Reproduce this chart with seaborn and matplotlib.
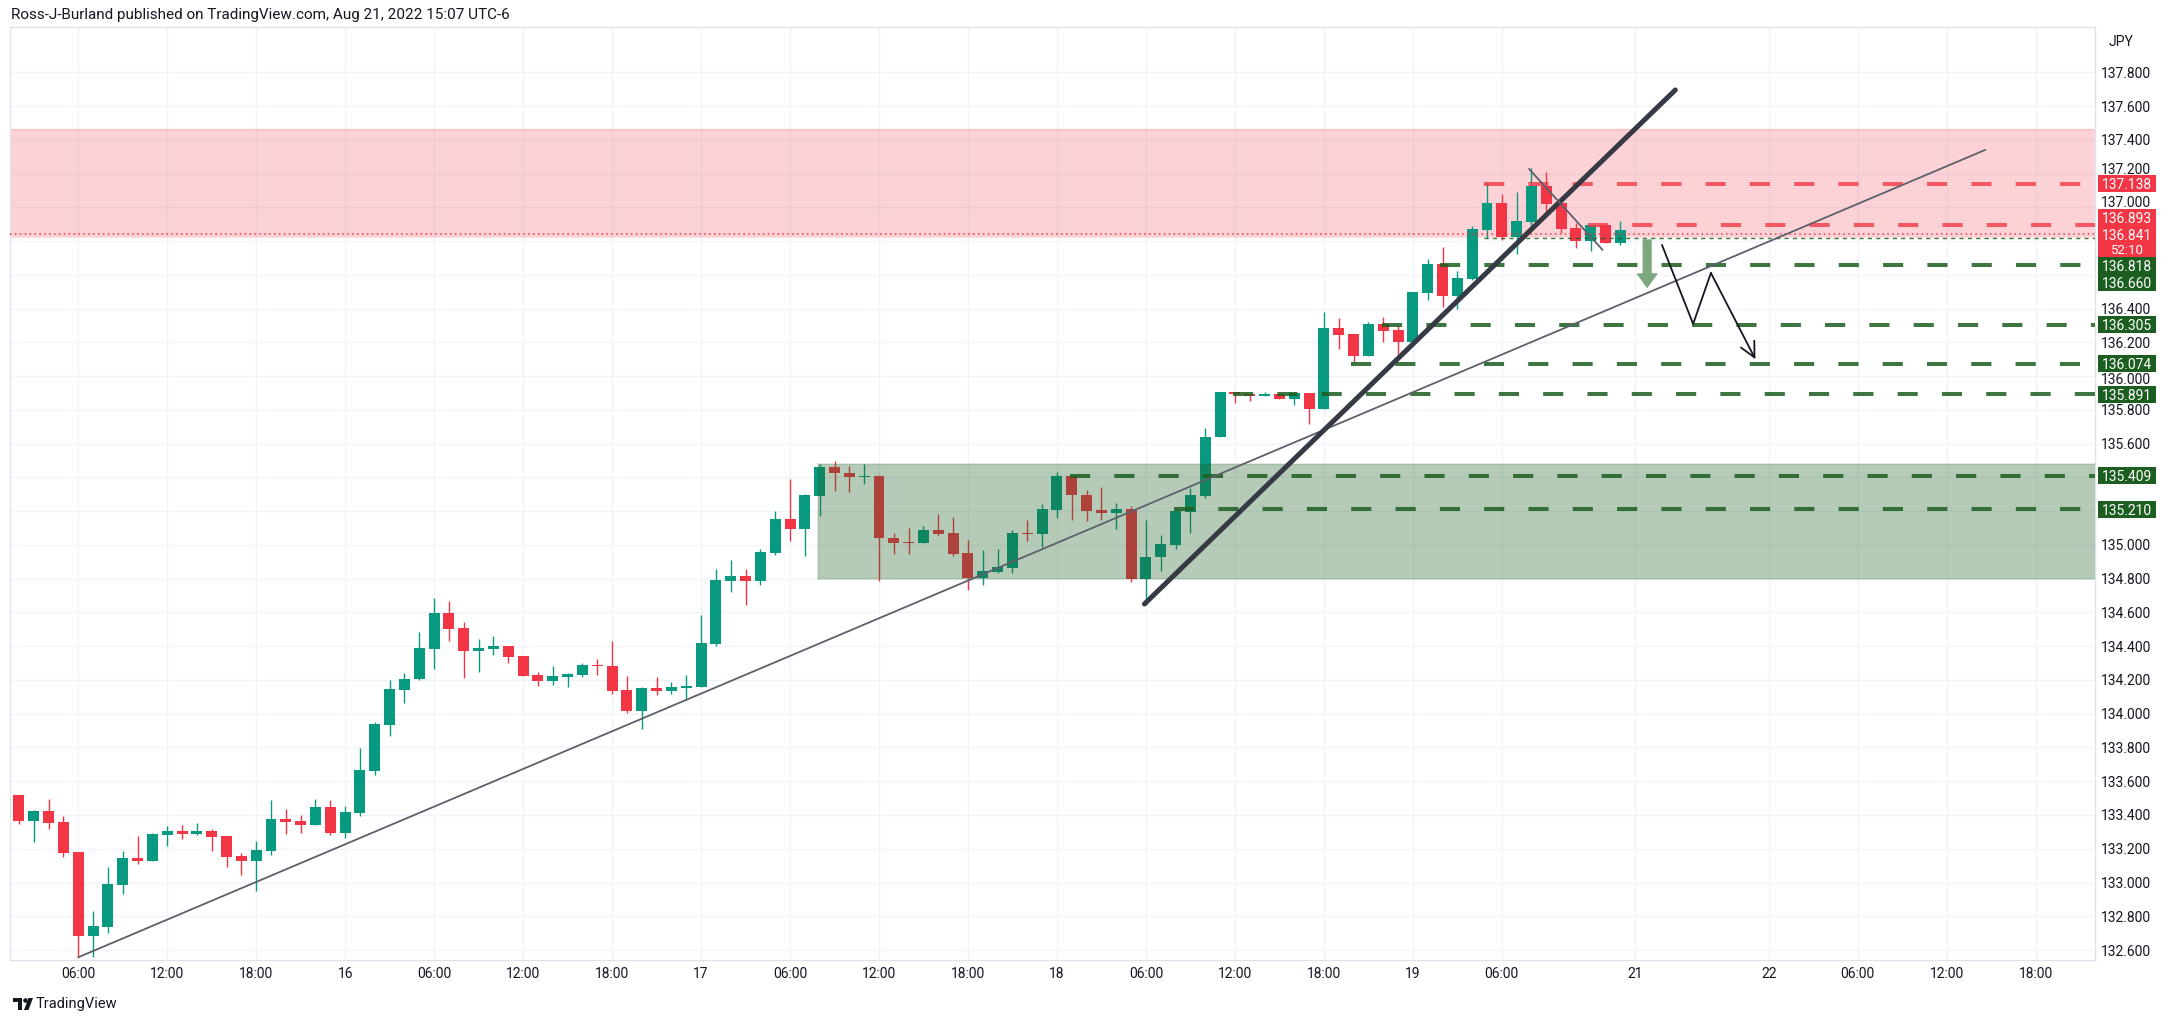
import numpy as np
import pandas as pd
import matplotlib
matplotlib.use("Agg")
import matplotlib.pyplot as plt
import seaborn as sns
from matplotlib.patches import Rectangle, Circle, Polygon
from matplotlib.transforms import IdentityTransform

# ---------------- data ----------------
bar_slot = list(range(-4, 105))   # hourly bars, slot 0 = Aug 15 06:00
opens = [133.518, 133.366, 133.423, 133.358, 133.180, 132.685, 132.738, 132.987, 133.145, 133.129,
         133.283, 133.305, 133.289, 133.305, 133.275, 133.157, 133.129, 133.188, 133.376, 133.364,
         133.342, 133.447, 133.295, 133.413, 133.662, 133.934, 134.140, 134.203, 134.386, 134.599,
         134.510, 134.374, 134.386, 134.404, 134.339, 134.232, 134.191, 134.220, 134.232, 134.291,
         134.285, 134.138, 134.014, 134.150, 134.132, 134.150, 134.161, 134.415, 134.788, 134.817,
         134.788, 134.953, 135.154, 135.095, 135.290, 135.463, 135.428, 135.400, 135.410, 135.042,
         135.018, 135.014, 135.089, 135.071, 134.953, 134.806, 134.842, 134.866, 135.071, 135.065,
         135.208, 135.410, 135.297, 135.208, 135.190, 135.214, 134.798, 134.929, 135.000, 135.196,
         135.291, 135.642, 135.906, 135.894, 135.885, 135.894, 135.867, 135.898, 135.808, 136.285,
         136.250, 136.121, 136.309, 136.273, 136.202, 136.494, 136.664, 136.476, 136.575, 136.867,
         137.024, 136.823, 136.912, 137.125, 137.024, 136.877, 136.800, 136.894, 136.788]
highs = [133.518, 133.429, 133.494, 133.394, 133.180, 132.831, 133.094, 133.186, 133.275, 133.293,
         133.334, 133.340, 133.352, 133.317, 133.275, 133.174, 133.245, 133.488, 133.435, 133.400,
         133.494, 133.488, 133.453, 133.796, 133.950, 134.199, 134.240, 134.486, 134.687, 134.669,
         134.545, 134.445, 134.463, 134.404, 134.339, 134.250, 134.280, 134.244, 134.303, 134.327,
         134.433, 134.221, 134.156, 134.215, 134.185, 134.232, 134.587, 134.859, 134.912, 134.859,
         134.977, 135.201, 135.390, 135.302, 135.481, 135.499, 135.469, 135.481, 135.416, 135.071,
         135.101, 135.113, 135.184, 135.166, 135.030, 134.970, 134.976, 135.089, 135.149, 135.244,
         135.434, 135.410, 135.327, 135.345, 135.250, 135.232, 135.149, 135.059, 135.202, 135.339,
         135.695, 135.906, 135.906, 135.894, 135.906, 135.894, 135.902, 135.898, 136.380, 136.344,
         136.250, 136.320, 136.350, 136.303, 136.498, 136.693, 136.764, 136.622, 136.888, 137.149,
         137.078, 137.090, 137.232, 137.208, 137.024, 136.906, 136.894, 136.900, 136.918]
lows = [133.348, 133.242, 133.319, 133.153, 132.557, 132.561, 132.699, 132.934, 133.111, 133.129,
        133.218, 133.259, 133.283, 133.188, 133.094, 133.046, 132.951, 133.165, 133.289, 133.295,
        133.342, 133.283, 133.265, 133.396, 133.638, 133.869, 134.064, 134.199, 134.262, 134.433,
        134.209, 134.250, 134.350, 134.303, 134.226, 134.167, 134.173, 134.161, 134.220, 134.232,
        134.114, 134.002, 133.907, 134.108, 134.114, 134.079, 134.156, 134.404, 134.723, 134.646,
        134.764, 134.941, 135.024, 134.935, 135.172, 135.317, 135.311, 135.358, 134.788, 134.949,
        134.949, 135.014, 135.061, 134.937, 134.735, 134.764, 134.836, 134.836, 135.024, 134.988,
        135.160, 135.149, 135.143, 135.149, 135.095, 134.780, 134.644, 134.846, 134.976, 135.071,
        135.279, 135.642, 135.843, 135.855, 135.885, 135.867, 135.831, 135.719, 135.808, 136.161,
        136.082, 136.121, 136.202, 136.125, 136.202, 136.453, 136.411, 136.400, 136.569, 136.819,
        136.806, 136.723, 136.859, 136.959, 136.847, 136.758, 136.741, 136.788, 136.776]
closes = [133.366, 133.423, 133.354, 133.176, 132.685, 132.742, 132.991, 133.145, 133.129, 133.287,
          133.305, 133.289, 133.305, 133.271, 133.153, 133.129, 133.192, 133.376, 133.360, 133.342,
          133.447, 133.295, 133.417, 133.666, 133.938, 134.146, 134.205, 134.392, 134.599, 134.504,
          134.374, 134.392, 134.404, 134.333, 134.226, 134.191, 134.226, 134.238, 134.291, 134.280,
          134.132, 134.014, 134.150, 134.132, 134.156, 134.167, 134.421, 134.794, 134.817, 134.788,
          134.959, 135.154, 135.095, 135.296, 135.463, 135.424, 135.400, 135.410, 135.038, 135.014,
          135.014, 135.089, 135.067, 134.949, 134.806, 134.846, 134.870, 135.071, 135.065, 135.214,
          135.410, 135.293, 135.202, 135.190, 135.214, 134.798, 134.929, 135.006, 135.202, 135.297,
          135.642, 135.906, 135.891, 135.885, 135.894, 135.867, 135.902, 135.808, 136.285, 136.246,
          136.121, 136.309, 136.269, 136.202, 136.498, 136.664, 136.476, 136.581, 136.871, 137.024,
          136.823, 136.918, 137.125, 137.019, 136.871, 136.800, 136.894, 136.788, 136.865]

time_tick_slots = [0, 6, 12, 18, 24, 30, 36, 42, 48, 54, 60, 66, 72, 78, 84, 90, 96, 105, 114, 120, 126, 132]
time_tick_labels = ["06:00", "12:00", "18:00", "16", "06:00", "12:00", "18:00", "17", "06:00", "12:00",
                    "18:00", "18", "06:00", "12:00", "18:00", "19", "06:00", "21", "22", "06:00",
                    "12:00", "18:00"]
price_ticks = [132.6, 132.8, 133.0, 133.2, 133.4, 133.6, 133.8, 134.0, 134.2, 134.4, 134.6, 134.8,
               135.0, 135.2, 135.4, 135.6, 135.8, 136.0, 136.2, 136.4, 136.6, 136.8, 137.0, 137.2,
               137.4, 137.6, 137.8]

resistance_zone = [136.826, 137.462]
support_zone = [134.800, 135.480]
support_zone_start = 49.9

red_levels = [137.138, 136.893]
red_level_start = [94.8, 101.8]
green_levels = [136.660, 136.305, 136.074, 135.891, 135.409, 135.210]
green_level_start = [91.8, 87.9, 85.8, 77.9, 66.9, 73.9]
thin_level = 136.818
thin_level_start = 94.8
last_price = 136.841
countdown = "52:10"

trend_thin_x = [0.0, 128.6]
trend_thin_y = [132.557, 137.340]
trend_thick_x = [71.9, 107.7]
trend_thick_y = [134.650, 137.695]
small_line_x = [97.84, 102.79]
small_line_y = [137.227, 136.748]
zigzag_x = [106.8, 108.9, 110.1, 113.1]
zigzag_y = [136.777, 136.309, 136.611, 136.100]
green_arrow_x = 105.8
green_arrow_y = [136.810, 136.520]

title_text = "Ross-J-Burland published on TradingView.com, Aug 21, 2022 15:07 UTC-6"

# ---------------- style ----------------
GREEN = "#089981"
RED = "#F23645"
TXT = "#131722"
GRID = "#F0F3FA"
DKGREEN = "#1B5E20"

sns.set_theme(style="white")
plt.rcParams['font.family'] = ['Roboto', 'DejaVu Sans']

W, H = 2181, 1022
fig = plt.figure(figsize=(W / 100, H / 100), dpi=100)
fig.patch.set_facecolor("white")
ax = fig.add_axes([10 / W, 1 - 960 / H, (2095 - 10) / W, (960 - 27) / H])
XMIN, XMAX = -4.6, 136.0
ax.set_xlim(XMIN, XMAX)
ax.set_ylim(132.541, 138.068)

df = pd.DataFrame({"slot": bar_slot, "open": opens, "high": highs, "low": lows, "close": closes})
df["up"] = df["close"] >= df["open"]
df["color"] = np.where(df["up"], GREEN, RED)
df["body_lo"] = df[["open", "close"]].min(axis=1)
df["body_h"] = (df["close"] - df["open"]).abs().clip(lower=0.006)

# grid
for t in time_tick_slots:
    ax.axvline(t, color=GRID, lw=1.0, zorder=0.5)
for p in price_ticks:
    ax.axhline(p, color=GRID, lw=1.0, zorder=0.5)

# resistance zone (behind candles)
ax.axhspan(resistance_zone[0], resistance_zone[1], color=RED, alpha=0.22, lw=0, zorder=1)
for b in resistance_zone:
    ax.axhline(b, color=RED, alpha=0.12, lw=1.0, zorder=1.1)

# candles
ax.vlines(df["slot"], df["low"], df["high"], colors=df["color"], lw=1.0, zorder=3)
ax.bar(df["slot"], df["body_h"], bottom=df["body_lo"], width=0.74, color=df["color"], lw=0, zorder=3)

# support zone (over candles)
ax.fill_between([support_zone_start, XMAX], support_zone[0], support_zone[1],
                color=DKGREEN, alpha=0.32, lw=0, zorder=4)
for b in support_zone:
    ax.plot([support_zone_start, XMAX], [b, b], color=DKGREEN, alpha=0.15, lw=1.2, zorder=4.1)
ax.plot([support_zone_start, support_zone_start], support_zone, color=DKGREEN, alpha=0.15, lw=1.2, zorder=4.1)

# current price dotted
ax.axhline(last_price, color=RED, lw=1.1, ls=(0, (1, 2.2)), zorder=4.5)

# levels
for lv, st in zip(red_levels, red_level_start):
    ax.plot([st, XMAX], [lv, lv], color=RED, alpha=0.78, lw=2.9, ls=(0, (5, 6)),
            solid_capstyle="butt", dash_capstyle="butt", zorder=5)
for lv, st in zip(green_levels, green_level_start):
    ax.plot([st, XMAX], [lv, lv], color=DKGREEN, alpha=0.85, lw=2.9, ls=(0, (5, 6)),
            solid_capstyle="butt", dash_capstyle="butt", zorder=5)
ax.plot([thin_level_start, XMAX], [thin_level, thin_level], color=DKGREEN, alpha=0.85, lw=1.0,
        ls=(0, (3, 3)), zorder=5)

# trend lines (seaborn)
sns.lineplot(x=trend_thin_x, y=trend_thin_y, ax=ax, color="#5D606B", lw=1.3, zorder=6, sort=False)
sns.lineplot(x=trend_thick_x, y=trend_thick_y, ax=ax, color="#363A45", lw=3.6, zorder=6,
             sort=False, solid_capstyle="round")
sns.lineplot(x=small_line_x, y=small_line_y, ax=ax, color="#5D606B", lw=1.3, zorder=6, sort=False)
sns.lineplot(x=zigzag_x[:-1], y=zigzag_y[:-1], ax=ax, color="#131722", lw=1.3, zorder=6, sort=False)
ax.annotate("", xy=(zigzag_x[-1], zigzag_y[-1]), xytext=(zigzag_x[-2], zigzag_y[-2]),
            arrowprops=dict(arrowstyle="->,head_length=0.9,head_width=0.45", color="#131722", lw=1.3,
                            shrinkA=0, shrinkB=0), zorder=6)
ax.annotate("", xy=(green_arrow_x, green_arrow_y[1]), xytext=(green_arrow_x, green_arrow_y[0]),
            arrowprops=dict(arrowstyle="simple,head_length=0.9,head_width=1.3,tail_width=0.55",
                            color="#7BA97D", lw=0, shrinkA=0, shrinkB=0), zorder=6)

# axes styling
for s in ax.spines.values():
    s.set_color("#E0E3EB")
    s.set_linewidth(1.0)
ax.set_xticks(time_tick_slots)
ax.set_xticklabels(time_tick_labels)
ax.yaxis.tick_right()
ax.set_yticks(price_ticks)
ax.set_yticklabels([""] * len(price_ticks))
ax.tick_params(axis="both", length=0, labelsize=10, labelcolor=TXT)
ax.tick_params(axis="x", pad=5)
ax.set_xlabel("")
ax.set_ylabel("")
if ax.get_legend():
    ax.get_legend().remove()

# price label boxes on the scale
def ypix(p):
    return ax.transData.transform((0.0, p))[1]

boxes = [(137.138, "137.138", RED, 1), (136.893, "136.893", RED, 1),
         (last_price, "136.841\n" + countdown, RED, 2), (thin_level, "136.818", DKGREEN, 1),
         (136.660, "136.660", DKGREEN, 1), (136.305, "136.305", DKGREEN, 1),
         (136.074, "136.074", DKGREEN, 1), (135.891, "135.891", DKGREEN, 1),
         (135.409, "135.409", DKGREEN, 1), (135.210, "135.210", DKGREEN, 1)]
HB = 17.0
EXTRA = 14.0
anchor = 2
placed = [None] * len(boxes)
cy = ypix(boxes[anchor][0])
placed[anchor] = (cy + HB / 2, cy - HB / 2 - EXTRA, cy)
top = placed[anchor][0]
for i in range(anchor - 1, -1, -1):
    c = max(ypix(boxes[i][0]), top + HB / 2)
    placed[i] = (c + HB / 2, c - HB / 2, c)
    top = c + HB / 2
bot = placed[anchor][1]
for i in range(anchor + 1, len(boxes)):
    c = min(ypix(boxes[i][0]), bot - HB / 2)
    placed[i] = (c + HB / 2, c - HB / 2, c)
    bot = c - HB / 2

BX0, BW = 2098, 58
for (val, txt, colr, nl), (t, b, c) in zip(boxes, placed):
    fig.add_artist(Rectangle((BX0, b), BW, t - b, transform=IdentityTransform(),
                             facecolor=colr, edgecolor="none", zorder=10))
    if nl == 1:
        fig.text(BX0 + BW / 2, c, txt, transform=IdentityTransform(), ha="center",
                 va="center_baseline", color="white", fontsize=10, zorder=11)
    else:
        a, bb = txt.split("\n")
        fig.text(BX0 + BW / 2, c, a, transform=IdentityTransform(), ha="center",
                 va="center_baseline", color="white", fontsize=10, zorder=11)
        fig.text(BX0 + BW / 2, c - 14.5, bb, transform=IdentityTransform(), ha="center",
                 va="center_baseline", color="white", fontsize=9.5, zorder=11)

# price scale labels, hidden under boxes, nudged off box edges
LH = 7.0
for p in price_ticks:
    yp = ypix(p)
    if any(b <= yp <= t for (t, b, c) in placed):
        continue
    for (t, b, c) in placed:
        if yp + LH > b and yp - LH < t:
            yp = t + LH if yp > c else b - LH
    if any((yp + LH - 1) > b and (yp - LH + 1) < t for (t, b, c) in placed):
        continue
    fig.text(2101, yp, f"{p:.3f}", transform=IdentityTransform(), ha="left",
             va="center_baseline", fontsize=10, color=TXT)

fig.text(2109, H - 42, "JPY", transform=IdentityTransform(), ha="left", va="center",
         fontsize=10, color=TXT)
fig.text(11, H - 15, title_text, transform=IdentityTransform(), ha="left", va="center",
         fontsize=11, color=TXT)
fig.text(36, H - 1004, "TradingView", transform=IdentityTransform(), ha="left", va="center",
         fontsize=10.5, color=TXT)

# small TradingView logo mark
LY = H - 1004
for art in [Rectangle((13, LY + 2), 9, 4, transform=IdentityTransform()),
            Rectangle((18, LY - 6), 4, 12, transform=IdentityTransform()),
            Circle((25.5, LY + 3.5), 2.3, transform=IdentityTransform()),
            Polygon([(24, LY - 6), (28.5, LY - 6), (33, LY + 6), (28.5, LY + 6)], closed=True,
                    transform=IdentityTransform())]:
    art.set_facecolor(TXT)
    art.set_edgecolor("none")
    fig.add_artist(art)

fig.savefig("out.png", dpi=100, facecolor="white")
